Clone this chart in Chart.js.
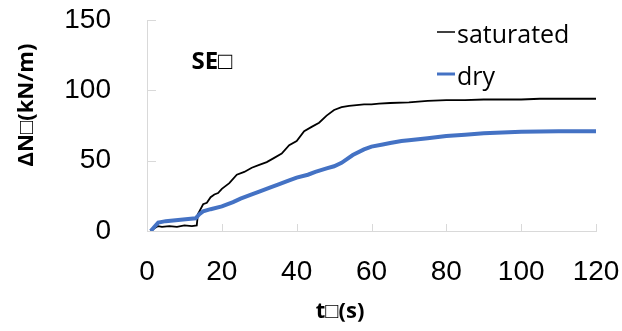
<!DOCTYPE html>
<html>
<head>
<meta charset="utf-8">
<script src="https://cdn.jsdelivr.net/npm/chart.js@4.4.1/dist/chart.umd.min.js"></script>
<style>
  html, body { margin: 0; padding: 0; background: #fff; }
  #wrap { width: 622px; height: 331px; position: relative; }
</style>
</head>
<body>
<div id="wrap"><canvas id="chart"></canvas></div>
<script>
// time (s) and force increment (kN/m)
const satT = [1, 2, 3, 4, 6, 8, 10, 12, 13.3, 13.6, 14, 15, 16, 17, 18, 19, 20, 22, 24, 26, 28, 30, 32, 34, 36, 38, 40, 42, 44, 46, 48, 50, 52, 54, 56, 58, 60, 62, 65, 70, 75, 80, 85, 90, 95, 100, 105, 110, 115, 120];
const satN = [0, 2, 3.5, 3, 3.5, 3, 4, 3.5, 4, 12, 14, 19, 20, 24, 26, 27, 30, 34, 40, 42, 45, 47, 49, 52, 55, 61, 64, 71, 74, 77, 82, 86, 88, 89, 89.5, 90, 90, 90.5, 91, 91.5, 92.5, 93, 93, 93.5, 93.5, 93.5, 94, 94, 94, 94];

const dryT = [1, 2, 3, 4, 5, 7, 9, 11, 13, 14, 15, 17, 20, 23, 25, 28, 30, 33, 35, 38, 40, 43, 45, 48, 50, 52, 55, 58, 60, 63, 65, 68, 70, 75, 80, 85, 90, 95, 100, 110, 120];
const dryN = [0, 3, 6, 6.5, 7, 7.5, 8, 8.5, 9, 12, 14, 15.5, 17.5, 20.5, 23, 26, 28, 31, 33, 36, 38, 40, 42, 44.5, 46, 48.5, 54, 58, 60, 61.5, 62.5, 64, 64.5, 66, 67.5, 68.5, 69.5, 70, 70.5, 71, 71];

const xTicks = [0, 20, 40, 60, 80, 100, 120];
const yTicks = [0, 50, 100, 150];

const seriesNames = ['saturated', 'dry'];
const seriesColors = ['#000000', '#4472C4'];

const toPoints = (xs, ys) => xs.map((x, i) => ({ x: x, y: ys[i] }));

// inside tick marks, titles and legend drawn on top of the chart
const decorPlugin = {
    id: 'decor',
    afterDraw(chart) {
        const ctx = chart.ctx;
        const xs = chart.scales.x, ys = chart.scales.y;
        const area = chart.chartArea;
        ctx.save();
        ctx.strokeStyle = '#d9d9d9';
        ctx.lineWidth = 1;
        yTicks.forEach(v => {
            const py = Math.round(ys.getPixelForValue(v)) + 0.5;
            ctx.beginPath();
            ctx.moveTo(area.left, py);
            ctx.lineTo(area.left + 9, py);
            ctx.stroke();
        });
        xTicks.forEach(v => {
            const px = Math.round(xs.getPixelForValue(v)) + 0.5;
            ctx.beginPath();
            ctx.moveTo(px, area.bottom);
            ctx.lineTo(px, area.bottom - 7);
            ctx.stroke();
        });

        ctx.fillStyle = '#000';
        ctx.textAlign = 'center';
        ctx.textBaseline = 'middle';
        ctx.font = 'bold 22px "Open Sans"';
        ctx.fillText('t\u25A1(s)', 340, 312);

        ctx.save();
        ctx.translate(27, 105);
        ctx.rotate(-Math.PI / 2);
        ctx.fillText('\u0394N\u25A1(kN/m)', 0, 0);
        ctx.restore();

        ctx.font = 'bold 24px "Open Sans"';
        ctx.fillText('SE\u25A1', 212, 62);

        // legend
        ctx.textAlign = 'left';
        ctx.textBaseline = 'alphabetic';
        ctx.font = '25px "Open Sans"';
        const rows = [32, 74];
        seriesNames.forEach((name, i) => {
            ctx.strokeStyle = seriesColors[i];
            ctx.lineWidth = i === 0 ? 1.5 : 3;
            ctx.beginPath();
            ctx.moveTo(437, rows[i]);
            ctx.lineTo(455, rows[i]);
            ctx.stroke();
            ctx.fillText(name, 457, rows[i] + 11);
        });
        ctx.restore();
    }
};

const tickFont = { family: '"Liberation Sans", Arial', size: 28 };

new Chart(document.getElementById('chart'), {
    type: 'line',
    data: {
        datasets: [
            {
                label: seriesNames[0],
                data: toPoints(satT, satN),
                borderColor: seriesColors[0],
                borderWidth: 1.8,
                pointRadius: 0,
                tension: 0,
                order: 2
            },
            {
                label: seriesNames[1],
                data: toPoints(dryT, dryN),
                borderColor: seriesColors[1],
                borderWidth: 4,
                pointRadius: 0,
                tension: 0,
                order: 1
            }
        ]
    },
    options: {
        responsive: true,
        maintainAspectRatio: false,
        animation: false,
        layout: { padding: { left: 0, top: 20, right: 26, bottom: 0 } },
        plugins: {
            legend: { display: false },
            tooltip: { enabled: false }
        },
        scales: {
            x: {
                type: 'linear',
                min: 0, max: 120,
                afterFit: s => { s.height = 100; s.paddingLeft = 0; s.paddingRight = 0; },
                afterBuildTicks: s => { s.ticks = xTicks.map(v => ({ value: v })); },
                grid: { display: false },
                border: { color: '#d9d9d9', width: 1 },
                ticks: { color: '#000', font: tickFont, padding: 16, maxRotation: 0 }
            },
            y: {
                min: 0, max: 150,
                afterFit: s => { s.width = 147; s.paddingTop = 0; s.paddingBottom = 0; },
                afterBuildTicks: s => { s.ticks = yTicks.map(v => ({ value: v })); },
                grid: { display: false },
                border: { color: '#d9d9d9', width: 1 },
                ticks: { color: '#000', font: tickFont, padding: 28 }
            }
        }
    },
    plugins: [decorPlugin]
});
</script>
</body>
</html>
